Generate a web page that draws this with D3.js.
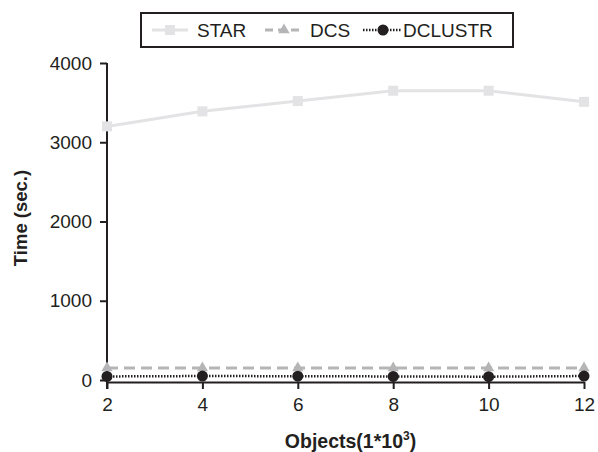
<!DOCTYPE html>
<html>
<head>
<meta charset="utf-8">
<script src="https://cdn.jsdelivr.net/npm/d3@7"></script>
<style>
  body { margin: 0; background: #fff; }
  text { font-family: "Liberation Sans", Arial, sans-serif; fill: #231f20; }
</style>
</head>
<body>
<div id="myChart"></div>
<script>
// data
let objects = [2, 4, 6, 8, 10, 12];
let star = [3200, 3390, 3520, 3650, 3650, 3510];
let dcs = [150, 150, 150, 150, 150, 150];
let dclustr = [45, 50, 48, 45, 42, 50];
let yTicks = [0, 1000, 2000, 3000, 4000];

let margin = { top: 63, right: 14, bottom: 71, left: 107 },
    width = 598 - margin.left - margin.right,
    height = 452 - margin.top - margin.bottom;

let x = d3.scaleLinear().domain([2, 12]).range([0, width]);
let y = d3.scaleLinear().domain([0, 4000]).range([height - 1, 0]);

let svg = d3.select("#myChart").append("svg")
    .attr("width", 598)
    .attr("height", 452)
    .append("g")
    .attr("transform", "translate(" + margin.left + "," + margin.top + ")");

// axes
let xAxis = svg.append("g")
    .attr("transform", "translate(0," + (height + 1) + ")")
    .call(d3.axisBottom(x).tickValues(objects).tickFormat(d3.format("d"))
        .tickSize(7).tickSizeOuter(0).tickPadding(9));
let yAxis = svg.append("g")
    .call(d3.axisLeft(y).tickValues(yTicks).tickFormat(d3.format("d"))
        .tickSize(7).tickSizeOuter(0).tickPadding(8));

[xAxis, yAxis].forEach(function(a) {
    a.attr("font-family", null).attr("font-size", null);
    a.selectAll("path, line").attr("stroke", "#231f20").attr("stroke-width", 2);
    a.selectAll("text").style("font-size", "19px").attr("fill", "#231f20");
});
yAxis.select(".domain").attr("d", "M0," + (height + 8) + "V0");

let line = function(vals) {
    return d3.line()
        .x(function(d, i) { return x(objects[i]); })
        .y(function(d) { return y(d); })(vals);
};

// STAR
svg.append("path").attr("d", line(star))
    .attr("fill", "none").attr("stroke", "#e3e3e5").attr("stroke-width", 3);
svg.selectAll(".star").data(star).enter().append("rect")
    .attr("x", function(d, i) { return x(objects[i]) - 5; })
    .attr("y", function(d) { return y(d) - 5; })
    .attr("width", 10).attr("height", 10)
    .attr("fill", "#e3e3e5");

// DCS
svg.append("path").attr("d", line(dcs))
    .attr("fill", "none").attr("stroke", "#b5b5b7").attr("stroke-width", 3)
    .attr("stroke-dasharray", "11,6");
let tri = d3.symbol().type(d3.symbolTriangle).size(55);
svg.selectAll(".dcs").data(dcs).enter().append("path")
    .attr("d", tri)
    .attr("transform", function(d, i) { return "translate(" + x(objects[i]) + "," + y(d) + ")"; })
    .attr("fill", "#b5b5b7");

// DCLUSTR
svg.append("path").attr("d", line(dclustr))
    .attr("fill", "none").attr("stroke", "#231f20").attr("stroke-width", 2.5)
    .attr("stroke-dasharray", "1.5,1.5");
svg.selectAll(".dcl").data(dclustr).enter().append("circle")
    .attr("cx", function(d, i) { return x(objects[i]); })
    .attr("cy", function(d) { return y(d); })
    .attr("r", 5.5)
    .attr("fill", "#231f20");

// axis titles
svg.append("text")
    .attr("x", width / 2 + 5)
    .attr("y", height + 67)
    .style("text-anchor", "middle")
    .style("font-size", "19.5px")
    .style("font-weight", "bold")
    .html("Objects(1*10<tspan dy='-8' font-size='12'>3</tspan><tspan dy='8'>)</tspan>");

svg.append("text")
    .attr("transform", "rotate(-90)")
    .attr("x", -(218 - margin.top))
    .attr("y", -80)
    .style("text-anchor", "middle")
    .style("font-size", "18.5px")
    .style("font-weight", "bold")
    .text("Time (sec.)");

// legend
let root = d3.select("svg");
let legend = root.append("g");
legend.append("rect")
    .attr("x", 141).attr("y", 13).attr("width", 372).attr("height", 34)
    .attr("fill", "#fff").attr("stroke", "#231f20").attr("stroke-width", 2);

let names = ["STAR", "DCS", "DCLUSTR"];
let lx = [152, 265, 363];
let items = legend.selectAll(".item").data(names).enter().append("g")
    .attr("transform", function(d, i) { return "translate(" + lx[i] + ",30)"; });

items.append("line")
    .attr("x1", 0).attr("x2", function(d, i) { return [36, 38, 39][i]; })
    .attr("y1", 0).attr("y2", 0)
    .attr("stroke", function(d, i) { return ["#e3e3e5", "#b5b5b7", "#231f20"][i]; })
    .attr("stroke-width", function(d, i) { return i == 2 ? 2.5 : 3; })
    .attr("stroke-dasharray", function(d, i) { return ["none", "8,5", "1.5,1.5"][i]; });

items.filter(function(d, i) { return i == 0; }).append("rect")
    .attr("x", 13).attr("y", -5).attr("width", 10).attr("height", 10).attr("fill", "#e3e3e5");
items.filter(function(d, i) { return i == 1; }).append("path")
    .attr("d", tri).attr("transform", "translate(19,0)").attr("fill", "#b5b5b7");
items.filter(function(d, i) { return i == 2; }).append("circle")
    .attr("cx", 20).attr("cy", 0).attr("r", 5.5).attr("fill", "#231f20");

items.append("text")
    .attr("x", function(d, i) { return [45, 45, 40][i]; })
    .attr("y", 7)
    .style("font-size", "19px")
    .text(function(d) { return d; });
</script>
</body>
</html>
